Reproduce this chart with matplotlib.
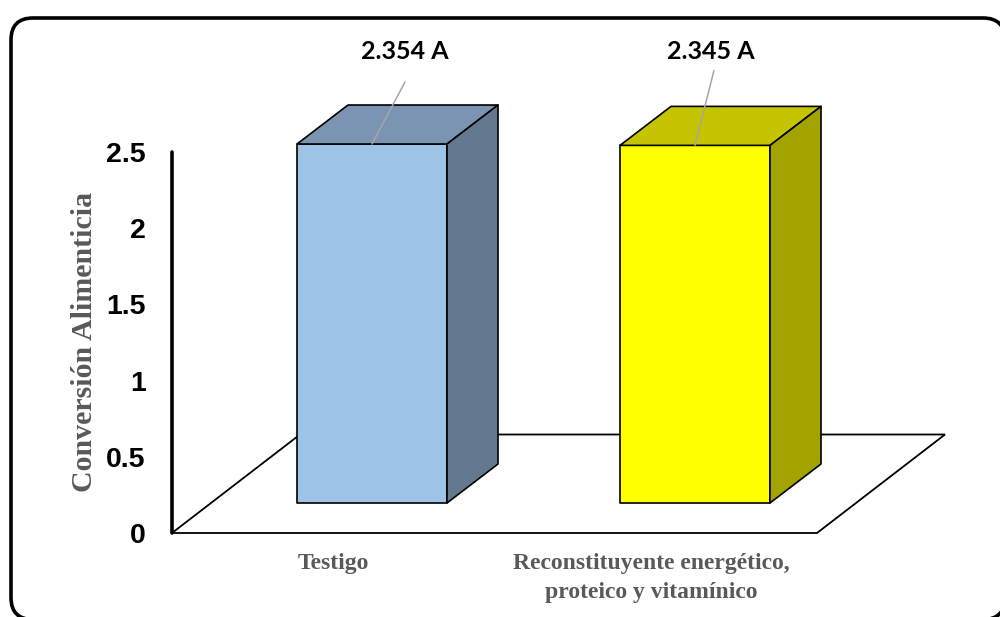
#!/usr/bin/env python3
"""Conversion alimenticia por tratamiento, bar chart drawn with box-style faces."""

import matplotlib
matplotlib.use("Agg")
import matplotlib.pyplot as plt
from matplotlib.patches import FancyBboxPatch, Polygon

categories = ["Testigo", "Reconstituyente energético,\nproteico y vitamínico"]
values = [2.354, 2.345]
value_labels = ["2.354 A", "2.345 A"]
y_ticks = [0, 0.5, 1, 1.5, 2, 2.5]
y_tick_labels = ["0", "0.5", "1", "1.5", "2", "2.5"]
y_label = "Conversión Alimenticia"

front_colors = ["#9DC3E6", "#FFFF00"]
top_colors = ["#7A94B1", "#C4C400"]
side_colors = ["#64798F", "#A3A300"]

W, H = 1000, 617
GREY = "#595959"
PX_PER_CAT = 323.0   # bar spacing
PX_PER_UNIT = 152.5  # vertical scale

fig = plt.figure(figsize=(W / 100, H / 100), dpi=100, facecolor="white")

# rounded outer frame, runs off the right and bottom edges
bg = fig.add_axes([0, 0, 1, 1])
bg.set_xlim(0, W)
bg.set_ylim(H, 0)
bg.axis("off")
bg.add_patch(FancyBboxPatch((11, 18), 994, 601.5,
                            boxstyle="round,pad=0,rounding_size=22",
                            fc="white", ec="black", lw=2.6))

# plot axes: left edge on the y axis line, x unit = one category
ax_left, ax_right, ax_bottom, ax_top = 172, 945, 533, 533 - 2.5 * PX_PER_UNIT
ax = fig.add_axes([ax_left / W, 1 - ax_bottom / H,
                   (ax_right - ax_left) / W, (ax_bottom - ax_top) / H])
ax.patch.set_alpha(0)
ax.set_xlim((ax_left - 372) / PX_PER_CAT, (ax_right - 372) / PX_PER_CAT)
ax.set_ylim(0, 2.5)

for side in ["top", "right", "bottom"]:
    ax.spines[side].set_visible(False)
ax.spines["left"].set_linewidth(2.6)
ax.spines["left"].set_capstyle("round")

ax.set_xticks([])
ax.set_yticks(y_ticks)
ax.set_yticklabels(y_tick_labels, family="Liberation Sans", fontweight="bold",
                   fontsize=20.5, color="black")
ax.tick_params(axis="y", length=0, pad=19)

# floor of the plot
x0 = ax.get_xlim()[0]
floor_w = 645 / PX_PER_CAT
floor_dx = 128 / PX_PER_CAT
floor_dy = 98.5 / PX_PER_UNIT
ax.add_patch(Polygon([(x0, 0), (x0 + floor_w, 0),
                      (x0 + floor_w + floor_dx, floor_dy), (x0 + floor_dx, floor_dy)],
                     closed=True, fc="white", ec="black", lw=1.3,
                     joinstyle="miter", clip_on=False, zorder=1))

# box faces for each bar
bar_w = 150 / PX_PER_CAT
depth_x = 51 / PX_PER_CAT
depth_y = 39 / PX_PER_UNIT
base = 30 / PX_PER_UNIT
for i, v in enumerate(values):
    l, r = i - bar_w / 2, i + bar_w / 2
    b, t = base, base + v
    faces = [
        ([(l, b), (r, b), (r, t), (l, t)], front_colors[i]),
        ([(l, t), (r, t), (r + depth_x, t + depth_y), (l + depth_x, t + depth_y)], top_colors[i]),
        ([(r, b), (r + depth_x, b + depth_y), (r + depth_x, t + depth_y), (r, t)], side_colors[i]),
    ]
    for pts, color in faces:
        ax.add_patch(Polygon(pts, closed=True, fc=color, ec="black", lw=1.2,
                             joinstyle="round", clip_on=False, zorder=2))

# value labels with grey leader lines, offsets in pixels from the bar top
leader_ends = [(33, 62), (19, 75)]
label_offsets = [(33, 93), (16, 94)]
for i, v in enumerate(values):
    ax.annotate("", xy=(i, base + v), xycoords="data",
                xytext=leader_ends[i], textcoords="offset pixels",
                arrowprops=dict(arrowstyle="-", color="#A6A6A6", lw=1.1,
                                shrinkA=0, shrinkB=0),
                annotation_clip=False, zorder=3)
    ax.annotate(value_labels[i], xy=(i, base + v), xytext=label_offsets[i],
                textcoords="offset pixels", ha="center", va="center",
                family="Lato", fontweight="bold", fontsize=18, color="black",
                annotation_clip=False, zorder=4)

# category labels sit below the floor, shifted left of their bars
cat_shift = [-39, -44]
for i, name in enumerate(categories):
    ax.annotate(name, xy=(i, 0), xytext=(cat_shift[i], -20),
                textcoords="offset pixels", ha="center", va="top",
                family="Liberation Serif", fontweight="bold", fontsize=17,
                color=GREY, linespacing=1.47, annotation_clip=False)

fig.text(85 / W, 1 - 342 / H, y_label, rotation=90, ha="center", va="center",
         family="Liberation Serif", fontweight="bold", fontsize=21.5, color=GREY)

plt.savefig("out.png", dpi=100)
plt.close()
